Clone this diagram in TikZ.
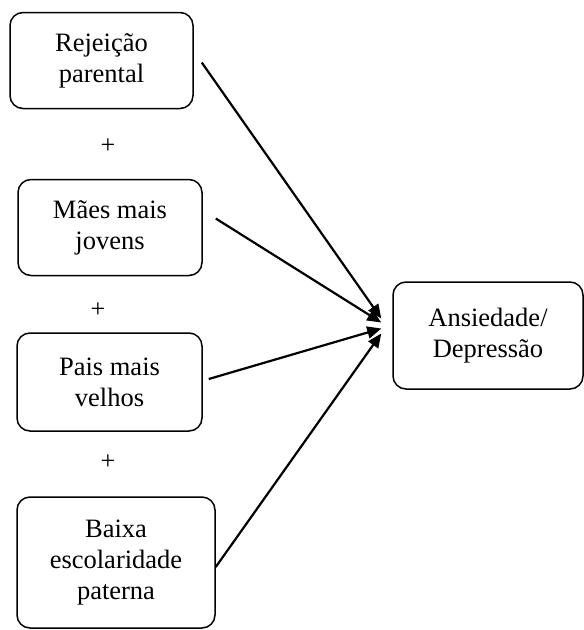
\documentclass[tikz,border=0pt]{standalone}
\usepackage{fontspec}
\setmainfont{Liberation Serif}
\usetikzlibrary{arrows.meta}
\begin{document}
\begin{tikzpicture}[x=1pt,y=-1pt,
  box/.style={draw, line width=1.5pt, rounded corners=13pt, align=center,
    inner sep=0pt, font=\fontsize{26.5}{31}\selectfont},
  plus/.style={font=\fontsize{26}{28}\selectfont, inner sep=0pt},
  conn/.style={line width=2.2pt, -{Triangle[length=14pt,width=12pt]}}]
\useasboundingbox (0,0) rectangle (584,630);
\node[box, minimum width=183pt, minimum height=96pt] (b1) at (101.5,60.5) {Rejeição\\parental};
\node[plus] (p1) at (108,146) {+};
\node[box, minimum width=184pt, minimum height=96pt] (b2) at (110,227.5) {Mães mais\\jovens};
\node[plus] (p2) at (98,310) {+};
\node[box, minimum width=185pt, minimum height=98pt] (b3) at (109.5,382) {Pais mais\\velhos};
\node[plus] (p3) at (108,462) {+};
\node[box, minimum width=198pt, minimum height=131pt] (b4) at (116,562.5) {Baixa\\escolaridade\\paterna};
\node[box, minimum width=190pt, minimum height=107pt] (t) at (488,335.5) {Ansiedade/\\Depressão};
\coordinate (e1) at ([xshift=-11pt,yshift=17pt]t.west);
\coordinate (e2) at ([xshift=-11pt,yshift=13pt]t.west);
\coordinate (e3) at ([xshift=-11pt,yshift=7pt]t.west);
\coordinate (e4) at ([xshift=-11pt,yshift=2pt]t.west);
\draw[conn] ([xshift=8pt,yshift=-2pt]b1.east) -- (e1);
\draw[conn] ([xshift=13pt,yshift=9pt]b2.east) -- (e2);
\draw[conn] ([xshift=6pt,yshift=3pt]b3.east) -- (e3);
\draw[conn] ([xshift=0pt,yshift=-4.5pt]b4.east) -- (e4);
\end{tikzpicture}
\end{document}
